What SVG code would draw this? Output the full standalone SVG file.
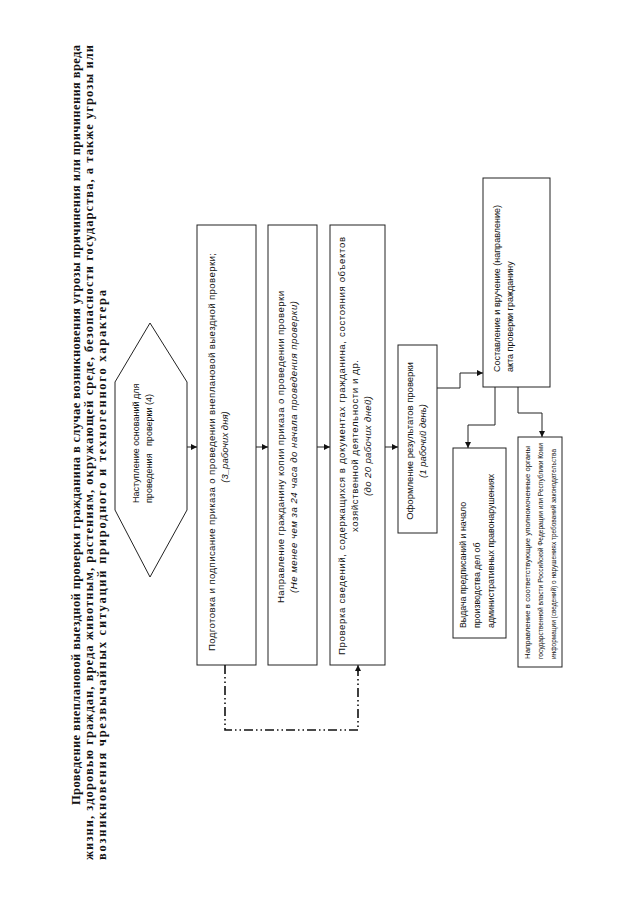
<svg xmlns="http://www.w3.org/2000/svg" width="640" height="905" viewBox="0 0 640 905">
<defs>
<style>
.bg{fill:#fff}
.box{fill:#fff;stroke:#222;stroke-width:1}
.ln{fill:none;stroke:#222;stroke-width:1}
.dd{fill:none;stroke:#111;stroke-width:1.6;stroke-dasharray:9 3 1.5 3 1.5 3}
.t{font-family:"Liberation Sans",Arial,sans-serif;fill:#111}
.i{font-style:italic}
.ttl{font-family:"Liberation Serif","Times New Roman",serif;font-weight:bold;font-size:12.5px;fill:#111}
</style>
<marker id="ah" viewBox="0 0 10 10" refX="10" refY="5" markerWidth="6" markerHeight="6" orient="auto" markerUnits="userSpaceOnUse">
<path d="M0,0 L10,5 L0,10 z" fill="#111"/>
</marker>
</defs>
<rect class="bg" x="0" y="0" width="640" height="905"/>

<g id="title">
<text class="ttl" transform="translate(80,805) rotate(-90)" textLength="760" lengthAdjust="spacing">Проведение внеплановой выездной проверки гражданина в случае возникновения угрозы причинения или причинения вреда</text>
<text class="ttl" transform="translate(93,860) rotate(-90)" textLength="815" lengthAdjust="spacing">жизни, здоровью граждан, вреда животным, растениям, окружающей среде, безопасности государства, а также угрозы или</text>
<text class="ttl" transform="translate(106,860) rotate(-90)" textLength="570" lengthAdjust="spacing">возникновения чрезвычайных ситуаций природного и техногенного характера</text>
</g>

<g id="n-start">
<polygon class="box" points="150,323 187,382 187,510 150,577 115,510 115,382"/>
<text class="t" font-size="9" transform="translate(139,503) rotate(-90)">Наступление оснований для</text>
<text class="t" font-size="9" transform="translate(152,503) rotate(-90)" xml:space="preserve">проведения   проверки (4)</text>
</g>

<g id="n-prikaz">
<rect class="box" x="197" y="225" width="59" height="440"/>
<text class="t" font-size="9.6" text-anchor="middle" transform="translate(215,452) rotate(-90)" textLength="398" lengthAdjust="spacing">Подготовка и подписание приказа о проведении внеплановой выездной проверки;</text>
<text class="t i" font-size="9.6" text-anchor="middle" transform="translate(228,447) rotate(-90)">(3_рабочих дня)</text>
</g>

<g id="n-kopiya">
<rect class="box" x="268" y="225" width="49" height="440"/>
<text class="t" font-size="9.6" text-anchor="middle" transform="translate(284,447) rotate(-90)" textLength="312" lengthAdjust="spacing">Направление гражданину копии приказа о проведении проверки</text>
<text class="t i" font-size="9.6" text-anchor="middle" transform="translate(297,447) rotate(-90)" textLength="292" lengthAdjust="spacing">(Не менее чем за 24 часа до начала проведения проверки)</text>
</g>

<g id="n-proverka">
<rect class="box" x="330" y="225" width="55" height="440"/>
<text class="t" font-size="9.6" text-anchor="middle" transform="translate(345,446) rotate(-90)" textLength="418" lengthAdjust="spacing">Проверка сведений, содержащихся в документах гражданина, состояния объектов</text>
<text class="t" font-size="9.6" text-anchor="middle" transform="translate(358,446) rotate(-90)" textLength="172" lengthAdjust="spacing">хозяйственной деятельности и др.</text>
<text class="t i" font-size="9.6" text-anchor="middle" transform="translate(371,446) rotate(-90)" textLength="100" lengthAdjust="spacing">(до 20 рабочих дней)</text>
</g>

<g id="n-oformlenie">
<rect class="box" x="398" y="345" width="39" height="188"/>
<text class="t" font-size="9.5" text-anchor="middle" transform="translate(413,441) rotate(-90)">Оформление результатов проверки</text>
<text class="t i" font-size="9.5" text-anchor="middle" transform="translate(426,441) rotate(-90)">(1 рабочий день)</text>
</g>

<g id="n-akt">
<rect class="box" x="483" y="178" width="67" height="209"/>
<text class="t" font-size="9" transform="translate(500,372) rotate(-90)">Составление и вручение (направление)</text>
<text class="t" font-size="9" transform="translate(513,372) rotate(-90)">акта проверки гражданину</text>
</g>

<g id="n-vydacha">
<rect class="box" x="453" y="448" width="53" height="190"/>
<text class="t" font-size="8.8" transform="translate(466,628) rotate(-90)">Выдача предписаний и начало</text>
<text class="t" font-size="8.8" transform="translate(480,628) rotate(-90)">производства дел об</text>
<text class="t" font-size="8.8" transform="translate(494,628) rotate(-90)">административных правонарушениях</text>
</g>

<g id="n-napravlenie">
<rect class="box" x="518" y="437" width="44" height="230"/>
<text class="t" font-size="7.8" transform="translate(530,659) rotate(-90)">Направление в соответствующие уполномоченные органы</text>
<text class="t" font-size="7.8" transform="translate(543,659) rotate(-90)" textLength="216" lengthAdjust="spacingAndGlyphs">государственной власти Российской Федерации или Республики Коми</text>
<text class="t" font-size="7.8" transform="translate(556,659) rotate(-90)" textLength="210" lengthAdjust="spacingAndGlyphs">информации (сведений) о нарушениях требований законодательства</text>
</g>

<g id="connectors">
<path class="ln" d="M187,447 L197,447" marker-end="url(#ah)"/>
<path class="ln" d="M256,447 L268,447" marker-end="url(#ah)"/>
<path class="ln" d="M317,447 L330,447" marker-end="url(#ah)"/>
<path class="ln" d="M385,447 L398,447" marker-end="url(#ah)"/>
<path class="ln" d="M437,388 L460,388 L460,373 L483,373" marker-end="url(#ah)"/>
<path class="ln" d="M495,387 L495,425 L468,425 L468,448" marker-end="url(#ah)"/>
<path class="ln" d="M518,387 L518,413 L542,413 L542,437" marker-end="url(#ah)"/>
<path class="dd" d="M225,665 L225,730 L358,730 L358,666"/>
<path class="ln" d="M358,672 L358,665" marker-end="url(#ah)"/>
</g>
</svg>
